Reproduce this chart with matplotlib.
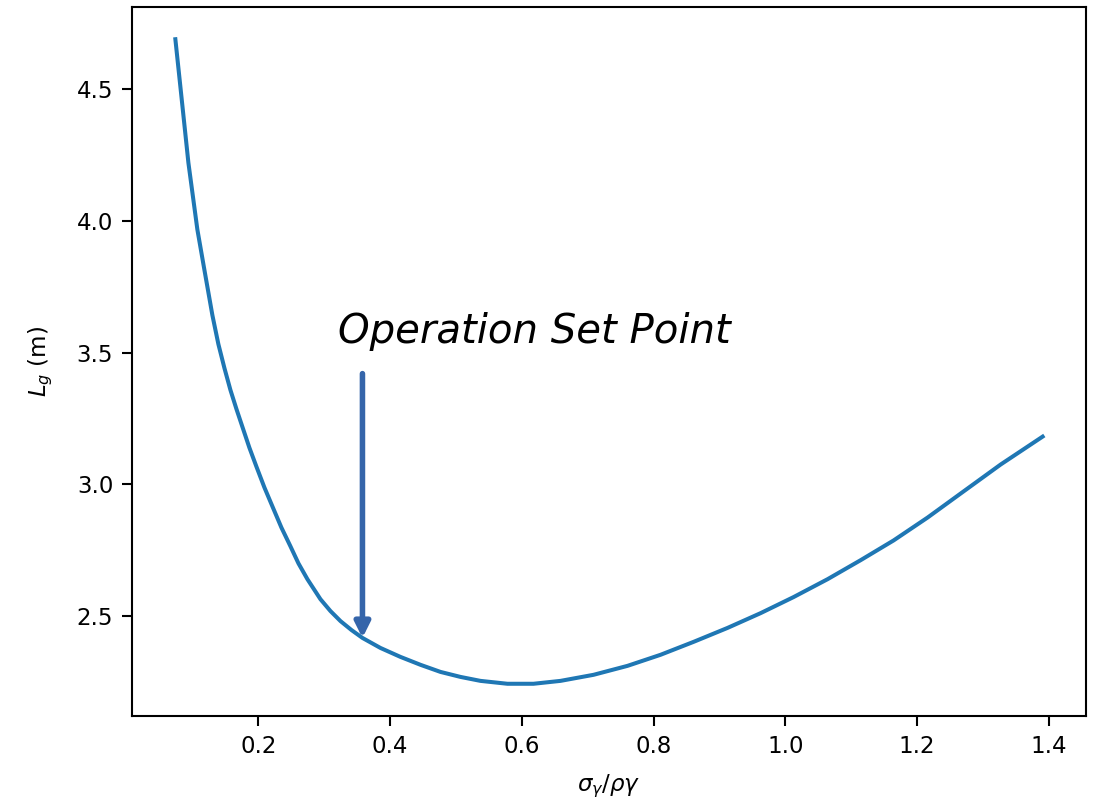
import matplotlib
matplotlib.use("Agg")
import matplotlib.pyplot as plt

# data
ratio = [0.0739, 0.0846, 0.0937, 0.1073, 0.1165, 0.1301, 0.1392, 0.1484, 0.1575, 0.1666,
         0.1757, 0.1863, 0.1970, 0.2091, 0.2213, 0.2349, 0.2486, 0.2608, 0.2744, 0.2942,
         0.3094, 0.3246, 0.3413, 0.3580, 0.3853, 0.4157, 0.4461, 0.4765, 0.5069, 0.5372,
         0.5782, 0.6177, 0.6588, 0.7089, 0.7605, 0.8107, 0.8608, 0.9124, 0.9626, 1.0127,
         1.0644, 1.1145, 1.1646, 1.2163, 1.2664, 1.3271, 1.3909]
Lg = [4.689, 4.436, 4.220, 3.967, 3.835, 3.642, 3.532, 3.441, 3.358, 3.286,
      3.218, 3.139, 3.067, 2.988, 2.916, 2.836, 2.765, 2.700, 2.640, 2.564,
      2.519, 2.481, 2.447, 2.417, 2.379, 2.345, 2.315, 2.288, 2.269, 2.254,
      2.243, 2.243, 2.254, 2.277, 2.311, 2.353, 2.402, 2.455, 2.511, 2.572,
      2.640, 2.712, 2.787, 2.874, 2.965, 3.075, 3.181]

set_point_x = 0.358
set_point_y = 2.417
arrow_tail_y = 3.42
annotation_text = "Operation Set Point"
xlabel = r"$\sigma_\gamma/\rho\gamma$"
ylabel = r"$L_g$ (m)"

fig = plt.figure(figsize=(10.94, 8.0), dpi=100)
ax = fig.add_axes([132/1094, 84/800, (1086-132)/1094, (793-84)/800])

ax.plot(ratio, Lg, color="#1f77b4", lw=2.9)

for s in ax.spines.values():
    s.set_linewidth(1.5)
ax.tick_params(labelsize=16.5, length=7, width=1.5, pad=6.5)
ax.set_xticks([0.2, 0.4, 0.6, 0.8, 1.0, 1.2, 1.4])
ax.set_yticks([2.5, 3.0, 3.5, 4.0, 4.5])
ax.set_xlabel(xlabel, fontsize=16.5, labelpad=11)
ax.set_ylabel(ylabel, fontsize=16.5, labelpad=16)

ax.annotate("", xy=(set_point_x, set_point_y), xytext=(set_point_x, arrow_tail_y),
            arrowprops=dict(arrowstyle="-|>,head_length=0.9,head_width=0.45",
                            color="#3565AA", lw=4, shrinkA=0, shrinkB=0,
                            mutation_scale=10))

fig.text(338/1094, (800-343)/800, annotation_text, fontsize=29,
         family="DejaVu Sans", style="italic", va="baseline", ha="left")

fig.savefig("out.png", dpi=100)
